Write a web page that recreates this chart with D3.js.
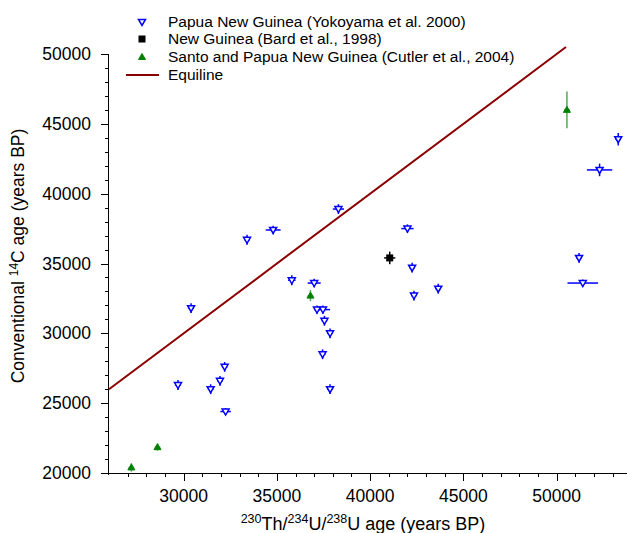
<!DOCTYPE html>
<html><head><meta charset="utf-8">
<script src="https://cdn.jsdelivr.net/npm/d3@7"></script>
<style>body{margin:0;background:#fff}svg{display:block;font-family:"Liberation Sans",Arial,sans-serif}</style>
</head><body><svg id="c" width="627" height="533"></svg>
<script>
// Papua New Guinea (Yokoyama et al. 2000): [Th/U age, 14C age, xerr, yerr]
const yokoX = [38300,34800,33400,30400,35800,37000,37150,37470,37550,37850,37450,37850,32200,31950,31450,29700,32250,42000,42250,43650,42350,53300,52300,51200,51400];
const yokoY = [38900,37400,36700,31800,33800,33600,31700,31700,30900,30000,28500,26000,27600,26600,26000,26300,24400,37500,34700,33200,32700,43900,41700,35400,33600];
const yokoXerr = [300,400,150,150,200,350,150,380,150,150,150,150,150,150,150,150,280,330,150,150,150,150,680,150,820];
const yokoYerr = [350,300,350,350,350,300,300,300,350,350,350,350,350,350,350,350,250,300,350,350,350,450,450,350,250];
// New Guinea (Bard et al., 1998)
const bardX = [41050], bardY = [35400], bardXerr = [300], bardYerr = [450];
// Santo and Papua New Guinea (Cutler et al., 2004)
const cutlerX = [27200,28600,36800,50550], cutlerY = [20400,21850,32700,46000];
const cutlerXerr = [150,150,150,150], cutlerYerr = [300,250,400,1320];
// Equiline
const equiline = [26000, 50500];
const xMajor = [30000,35000,40000,45000,50000];
const yMajor = [20000,25000,30000,35000,40000,45000,50000];
const legendLabels = ["Papua New Guinea (Yokoyama et al. 2000)","New Guinea (Bard et al., 1998)","Santo and Papua New Guinea (Cutler et al., 2004)","Equiline"];

const svg = d3.select("#c");
const x = d3.scaleLinear().domain([26000, 53770]).range([109, 627]);
const y = d3.scaleLinear().domain([20000, 50000]).range([473, 54]);
const BLUE="#0000ff", GREEN="#008000", GERR="#55a855", RED="#8b0000";

// axes
const ax = svg.append("g").attr("stroke","#000").attr("stroke-width",1);
ax.append("line").attr("x1",102).attr("x2",627).attr("y1",y(20000)+0.5).attr("y2",y(20000)+0.5);
ax.append("line").attr("x1",x(26000)-0.5).attr("x2",x(26000)-0.5).attr("y1",y(50000)).attr("y2",y(20000)+2);
d3.range(27000, 53800, 1000).forEach(v=>{
  const major = v%5000===0;
  ax.append("line").attr("x1",Math.round(x(v))+0.5).attr("x2",Math.round(x(v))+0.5).attr("y1",y(20000)).attr("y2",y(20000)+(major?8:4));
});
d3.range(20000, 50001, 1000).forEach(v=>{
  const major = v%5000===0;
  ax.append("line").attr("y1",Math.round(y(v))+0.5).attr("y2",Math.round(y(v))+0.5).attr("x1",x(26000)).attr("x2",x(26000)-(major?8:4));
});
svg.selectAll(".xt").data(xMajor).enter().append("text").attr("x",d=>x(d)).attr("y",502)
  .attr("text-anchor","middle").attr("font-size",17.5).text(d=>d);
svg.selectAll(".yt").data(yMajor).enter().append("text").attr("x",91).attr("y",d=>y(d)+6)
  .attr("text-anchor","end").attr("font-size",17.5).text(d=>d);

// axis titles
const xt = svg.append("text").attr("x",363).attr("y",530).attr("text-anchor","middle").attr("font-size",18);
xt.append("tspan").attr("font-size",12.5).attr("dy",-7).text("230");
xt.append("tspan").attr("dy",7).text("Th/");
xt.append("tspan").attr("font-size",12.5).attr("dy",-7).text("234");
xt.append("tspan").attr("dy",7).text("U/");
xt.append("tspan").attr("font-size",12.5).attr("dy",-7).text("238");
xt.append("tspan").attr("dy",7).text("U age (years BP)");
const yt = svg.append("text").attr("transform","translate(24,256) rotate(-90)").attr("text-anchor","middle").attr("font-size",17.5);
yt.append("tspan").text("Conventional ");
yt.append("tspan").attr("font-size",12).attr("dy",-6).text("14");
yt.append("tspan").attr("dy",6).text("C age (years BP)");

// equiline
svg.append("line").attr("x1",x(equiline[0])).attr("y1",y(equiline[0])).attr("x2",x(equiline[1])).attr("y2",y(equiline[1]))
  .attr("stroke",RED).attr("stroke-width",2);

function errbars(X,Y,XE,YE,color){
  const g = svg.append("g").attr("stroke",color).attr("stroke-width",1.5);
  X.forEach((xv,i)=>{
    g.append("line").attr("x1",x(xv-XE[i])).attr("x2",x(xv+XE[i])).attr("y1",y(Y[i])).attr("y2",y(Y[i]));
    g.append("line").attr("x1",x(xv)).attr("x2",x(xv)).attr("y1",y(Y[i]-YE[i])).attr("y2",y(Y[i]+YE[i]));
  });
}
errbars(yokoX,yokoY,yokoXerr,yokoYerr,BLUE);
errbars(bardX,bardY,bardXerr,bardYerr,"#000");
errbars(cutlerX,cutlerY,cutlerXerr,cutlerYerr,GERR);

const triDown = (cx,cy)=>`M${cx-3.5},${cy-2.5}L${cx+3.5},${cy-2.5}L${cx},${cy+3.5}Z`;
const triUp = (cx,cy)=>`M${cx-3.5},${cy+2.5}L${cx+3.5},${cy+2.5}L${cx},${cy-3.5}Z`;
yokoX.forEach((xv,i)=>{
  svg.append("path").attr("d",triDown(x(xv),y(yokoY[i]))).attr("fill","#fff").attr("stroke",BLUE).attr("stroke-width",1.5);
});
bardX.forEach((xv,i)=>{
  svg.append("rect").attr("x",x(xv)-3.5).attr("y",y(bardY[i])-3.5).attr("width",7).attr("height",7).attr("fill","#000");
});
cutlerX.forEach((xv,i)=>{
  svg.append("path").attr("d",triUp(x(xv),y(cutlerY[i]))).attr("fill",GREEN).attr("stroke",GREEN).attr("stroke-width",1);
});

// legend
const lg = svg.append("g");
const ly = [22,39,57,75];
lg.append("path").attr("d",triDown(142,ly[0])).attr("fill","#fff").attr("stroke",BLUE).attr("stroke-width",1.5);
lg.append("rect").attr("x",138.5).attr("y",ly[1]-3.5).attr("width",7).attr("height",7).attr("fill","#000");
lg.append("path").attr("d",triUp(142,ly[2])).attr("fill",GREEN).attr("stroke",GREEN);
lg.append("line").attr("x1",126).attr("x2",159).attr("y1",ly[3]).attr("y2",ly[3]).attr("stroke",RED).attr("stroke-width",2);
legendLabels.forEach((t,i)=>{
  lg.append("text").attr("x",168).attr("y",ly[i]+5).attr("font-size",15.5).text(t);
});
</script></body></html>
